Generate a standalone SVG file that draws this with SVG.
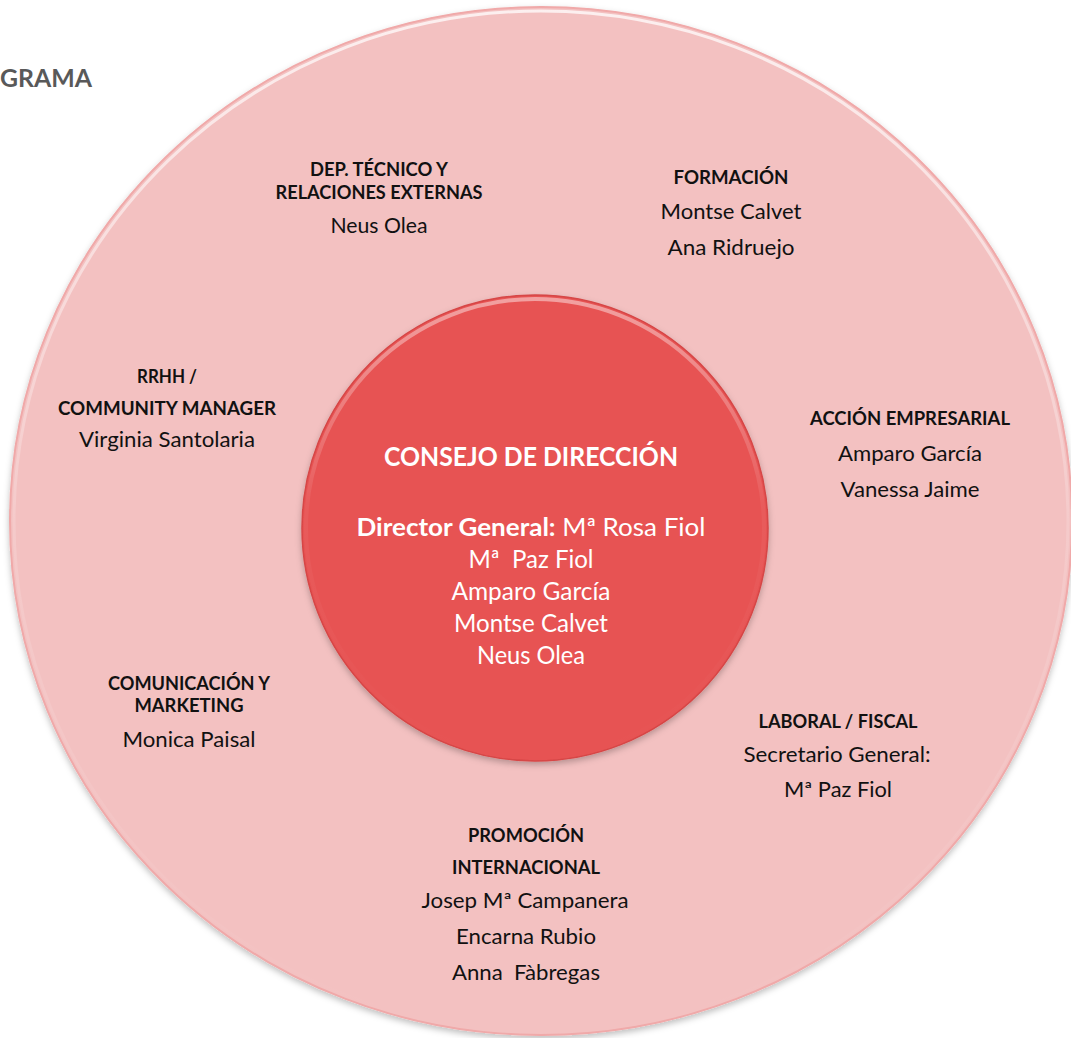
<svg xmlns="http://www.w3.org/2000/svg" width="1071" height="1038" viewBox="0 0 1071 1038">
<style>
text{font-family:Lato,"Open Sans","Liberation Sans",sans-serif;text-anchor:middle;fill:#111;}
.h{font-weight:bold;font-size:18px;}
.n{font-size:21px;}
.w{fill:#fff;}
.title{font-weight:bold;font-size:24px;fill:#595959;text-anchor:end;}
</style>
<defs>
<linearGradient id="rimO" x1="0" y1="0" x2="0" y2="1">
<stop offset="0" stop-color="#fff" stop-opacity="0.75"/>
<stop offset="0.5" stop-color="#fff" stop-opacity="0.15"/>
<stop offset="1" stop-color="#fff" stop-opacity="0"/>
</linearGradient>
<linearGradient id="rimI" x1="0" y1="0" x2="0" y2="1">
<stop offset="0" stop-color="#fff" stop-opacity="0.45"/>
<stop offset="0.45" stop-color="#fff" stop-opacity="0.05"/>
<stop offset="1" stop-color="#fff" stop-opacity="0"/>
</linearGradient>
<filter id="sh" x="-10%" y="-10%" width="120%" height="125%">
<feDropShadow dx="0" dy="3" stdDeviation="3" flood-color="#000" flood-opacity="0.25"/>
</filter>
</defs>
<rect width="1071" height="1038" fill="#fff"/>
<text class="title" x="92" y="87" textLength="92" lengthAdjust="spacingAndGlyphs">GRAMA</text>

<g id="outer-ring">
<ellipse cx="541" cy="521" rx="531" ry="514" fill="#F3C1C1" stroke="#F0A9A9" stroke-width="2" filter="url(#sh)"/>
<ellipse cx="541" cy="521" rx="527" ry="510" fill="none" stroke="url(#rimO)" stroke-width="3"/>
</g>

<g id="consejo">
<circle cx="535" cy="528" r="233" fill="#E75353" stroke="#D64646" stroke-width="1.5" filter="url(#sh)"/>
<circle cx="535" cy="528" r="229" fill="none" stroke="url(#rimI)" stroke-width="4"/>
<text class="w" x="531" y="466" font-size="26" font-weight="bold" textLength="294" lengthAdjust="spacingAndGlyphs">CONSEJO DE DIRECCIÓN</text>
<text class="w" x="531" y="536" font-size="25" textLength="349" lengthAdjust="spacingAndGlyphs"><tspan font-weight="bold">Director General:</tspan> Mª Rosa Fiol</text>
<text class="w" x="531" y="568" font-size="25" textLength="125" lengthAdjust="spacingAndGlyphs" xml:space="preserve">Mª  Paz Fiol</text>
<text class="w" x="531" y="600" font-size="25" textLength="159" lengthAdjust="spacingAndGlyphs">Amparo García</text>
<text class="w" x="531" y="632" font-size="25" textLength="154" lengthAdjust="spacingAndGlyphs">Montse Calvet</text>
<text class="w" x="531" y="664" font-size="25" textLength="108" lengthAdjust="spacingAndGlyphs">Neus Olea</text>
</g>

<g id="dep-tecnico">
<text class="h" x="379" y="176" textLength="138" lengthAdjust="spacingAndGlyphs">DEP. TÉCNICO Y</text>
<text class="h" x="379" y="199" textLength="207" lengthAdjust="spacingAndGlyphs">RELACIONES EXTERNAS</text>
<text class="n" x="379" y="233" textLength="97" lengthAdjust="spacingAndGlyphs">Neus Olea</text>
</g>

<g id="formacion">
<text class="h" x="731" y="184" textLength="115" lengthAdjust="spacingAndGlyphs">FORMACIÓN</text>
<text class="n" x="731" y="219" textLength="141" lengthAdjust="spacingAndGlyphs">Montse Calvet</text>
<text class="n" x="731" y="255" textLength="127" lengthAdjust="spacingAndGlyphs">Ana Ridruejo</text>
</g>

<g id="rrhh">
<text class="h" x="167" y="383" textLength="60" lengthAdjust="spacingAndGlyphs">RRHH /</text>
<text class="h" x="167" y="415" textLength="218" lengthAdjust="spacingAndGlyphs">COMMUNITY MANAGER</text>
<text class="n" x="167" y="447" textLength="176" lengthAdjust="spacingAndGlyphs">Virginia Santolaria</text>
</g>

<g id="accion-empresarial">
<text class="h" x="910" y="425" textLength="200" lengthAdjust="spacingAndGlyphs">ACCIÓN EMPRESARIAL</text>
<text class="n" x="910" y="461" textLength="144" lengthAdjust="spacingAndGlyphs">Amparo García</text>
<text class="n" x="910" y="497" textLength="139" lengthAdjust="spacingAndGlyphs">Vanessa Jaime</text>
</g>

<g id="comunicacion">
<text class="h" x="189" y="690" textLength="162" lengthAdjust="spacingAndGlyphs">COMUNICACIÓN Y</text>
<text class="h" x="189" y="712" textLength="109" lengthAdjust="spacingAndGlyphs">MARKETING</text>
<text class="n" x="189" y="747" textLength="133" lengthAdjust="spacingAndGlyphs">Monica Paisal</text>
</g>

<g id="laboral-fiscal">
<text class="h" x="838" y="728" textLength="159" lengthAdjust="spacingAndGlyphs">LABORAL / FISCAL</text>
<text class="n" x="837" y="762" textLength="187" lengthAdjust="spacingAndGlyphs">Secretario General:</text>
<text class="n" x="838" y="797" textLength="108" lengthAdjust="spacingAndGlyphs">Mª Paz Fiol</text>
</g>

<g id="promocion">
<text class="h" x="526" y="842" textLength="116" lengthAdjust="spacingAndGlyphs">PROMOCIÓN</text>
<text class="h" x="526" y="874" textLength="148" lengthAdjust="spacingAndGlyphs">INTERNACIONAL</text>
<text class="n" x="525" y="908" textLength="207" lengthAdjust="spacingAndGlyphs">Josep Mª Campanera</text>
<text class="n" x="526" y="944" textLength="140" lengthAdjust="spacingAndGlyphs">Encarna Rubio</text>
<text class="n" x="526" y="980" textLength="148" lengthAdjust="spacingAndGlyphs" xml:space="preserve">Anna  Fàbregas</text>
</g>

<g id="connectors"/>
</svg>
